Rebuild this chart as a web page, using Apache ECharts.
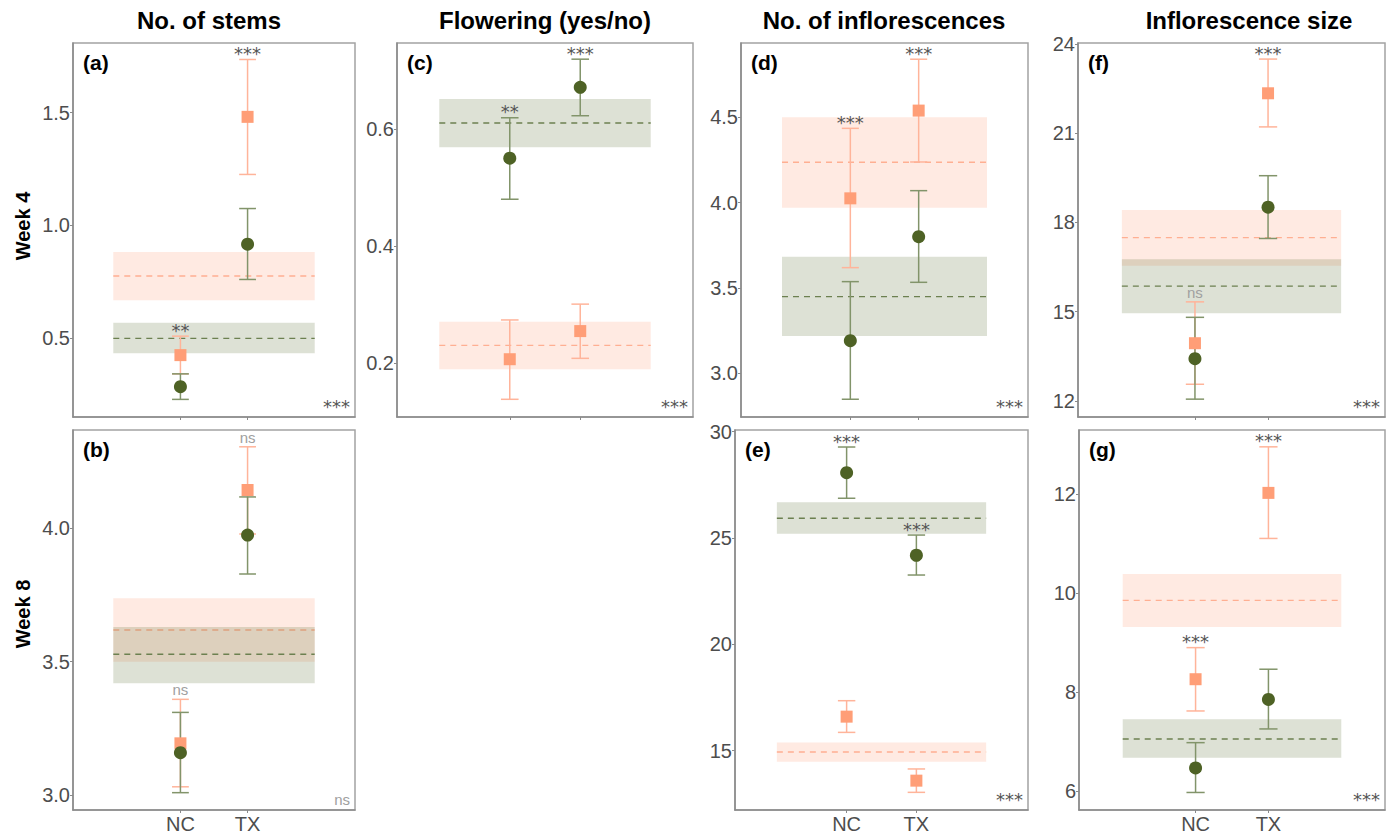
<!DOCTYPE html>
<html><head><meta charset="utf-8">
<script src="https://cdn.jsdelivr.net/npm/echarts@6/dist/echarts.min.js"></script>
<style>html,body{margin:0;padding:0;background:#fff}#chart{width:1392px;height:835px}</style>
</head><body><div id="chart"></div>
<script>
const categories = ['NC', 'TX'];
const columnTitles = ['No. of stems', 'Flowering (yes/no)', 'No. of inflorescences', 'Inflorescence size'];
const rowTitles = ['Week 4', 'Week 8'];
const panelLetters = ['(a)', '(b)', '(c)', '(d)', '(e)', '(f)', '(g)'];

// (a) No. of stems, week 4
const stemsW4Green = [0.286, 0.917];
const stemsW4GreenLow = [0.230, 0.761];
const stemsW4GreenHigh = [0.343, 1.075];
const stemsW4Orange = [0.426, 1.481];
const stemsW4OrangeLow = [0.343, 1.226];
const stemsW4OrangeHigh = [0.510, 1.735];
const stemsW4GreenBand = [0.434, 0.500, 0.569];   // low, mean, high
const stemsW4OrangeBand = [0.669, 0.776, 0.883];
const stemsW4Sig = ['**', '***'];
const stemsW4Overall = '***';
const stemsW4Ticks = ['0.5', '1.0', '1.5'];
const stemsW4Range = [0.152, 1.808];

// (b) No. of stems, week 8
const stemsW8Green = [3.159, 3.975];
const stemsW8GreenLow = [3.009, 3.829];
const stemsW8GreenHigh = [3.310, 4.118];
const stemsW8Orange = [3.194, 4.144];
const stemsW8OrangeLow = [3.031, 3.979];
const stemsW8OrangeHigh = [3.359, 4.306];
const stemsW8GreenBand = [3.419, 3.528, 3.630];
const stemsW8OrangeBand = [3.500, 3.619, 3.738];
const stemsW8Sig = ['ns', 'ns'];
const stemsW8Overall = 'ns';
const stemsW8Ticks = ['3.0', '3.5', '4.0'];
const stemsW8Range = [2.944, 4.369];

// (c) Flowering, week 4
const flowerW4Green = [0.550, 0.671];
const flowerW4GreenLow = [0.480, 0.6225];
const flowerW4GreenHigh = [0.619, 0.719];
const flowerW4Orange = [0.207, 0.255];
const flowerW4OrangeLow = [0.1386, 0.2085];
const flowerW4OrangeHigh = [0.274, 0.301];
const flowerW4GreenBand = [0.5686, 0.610, 0.651];
const flowerW4OrangeBand = [0.190, 0.2307, 0.271];
const flowerW4Sig = ['**', '***'];
const flowerW4Overall = '***';
const flowerW4Ticks = ['0.2', '0.4', '0.6'];
const flowerW4Range = [0.1084, 0.7466];

// (d) No. of inflorescences, week 4
const inflW4Green = [3.191, 3.800];
const inflW4GreenLow = [2.848, 3.533];
const inflW4GreenHigh = [3.537, 4.070];
const inflW4Orange = [4.025, 4.539];
const inflW4OrangeLow = [3.619, 4.238];
const inflW4OrangeHigh = [4.435, 4.840];
const inflW4GreenBand = [3.218, 3.449, 3.683];
const inflW4OrangeBand = [3.970, 4.236, 4.500];
const inflW4Sig = ['***', '***'];
const inflW4Overall = '***';
const inflW4Ticks = ['3.0', '3.5', '4.0', '4.5'];
const inflW4Range = [2.744, 4.935];

// (e) No. of inflorescences, week 8
const inflW8Green = [28.07, 24.19];
const inflW8GreenLow = [26.87, 23.26];
const inflW8GreenHigh = [29.28, 25.14];
const inflW8Orange = [16.60, 13.59];
const inflW8OrangeLow = [15.86, 13.04];
const inflW8OrangeHigh = [17.35, 14.14];
const inflW8GreenBand = [25.20, 25.93, 26.68];
const inflW8OrangeBand = [14.48, 14.94, 15.39];
const inflW8Sig = ['***', '***'];
const inflW8Overall = '***';
const inflW8Ticks = ['15', '20', '25', '30'];
const inflW8Range = [12.21, 30.08];

// (f) Inflorescence size, week 4
const sizeW4Green = [13.42, 18.51];
const sizeW4GreenLow = [12.06, 17.46];
const sizeW4GreenHigh = [14.81, 19.57];
const sizeW4Orange = [13.94, 22.34];
const sizeW4OrangeLow = [12.56, 21.21];
const sizeW4OrangeHigh = [15.33, 23.49];
const sizeW4GreenBand = [14.95, 15.86, 16.76];
const sizeW4OrangeBand = [16.54, 17.49, 18.42];
const sizeW4Sig = ['ns', '***'];
const sizeW4Overall = '***';
const sizeW4Ticks = ['12', '15', '18', '21', '24'];
const sizeW4Range = [11.46, 24.03];

// (g) Inflorescence size, week 8
const sizeW8Green = [6.465, 7.850];
const sizeW8GreenLow = [5.970, 7.253];
const sizeW8GreenHigh = [6.976, 8.459];
const sizeW8Orange = [8.257, 12.02];
const sizeW8OrangeLow = [7.616, 11.10];
const sizeW8OrangeHigh = [8.895, 12.95];
const sizeW8GreenBand = [6.67, 7.05, 7.45];
const sizeW8OrangeBand = [9.31, 9.85, 10.38];
const sizeW8Sig = ['***', '***'];
const sizeW8Overall = '***';
const sizeW8Ticks = ['6', '8', '10', '12'];
const sizeW8Range = [5.616, 13.29];

// ---------- layout & style ----------
const FONT = '"Liberation Sans", Arial, Helvetica, sans-serif';
const STAR_FONT = '"DejaVu Sans", sans-serif';
const C = {
  greenPt: '#4E6225', orangePt: '#FF9E77',
  greenBar: '#82946A', orangeBar: '#FFB49A',
  greenDash: '#6C8050', orangeDash: '#FFAF92',
  greenBand: 'rgba(85,107,47,0.20)', orangeBand: 'rgba(255,160,122,0.22)',
  axis: '#8a8a8a', border: '#a3a3a3', tickText: '#4d4d4d', star: '#555555', ns: '#a0a0a0'
};

const panels = [
  { rect: [73, 43, 282, 374],  showX: false, g: [stemsW4Green, stemsW4GreenLow, stemsW4GreenHigh], o: [stemsW4Orange, stemsW4OrangeLow, stemsW4OrangeHigh], gb: stemsW4GreenBand, ob: stemsW4OrangeBand, sig: stemsW4Sig, overall: stemsW4Overall, ticks: stemsW4Ticks, range: stemsW4Range },
  { rect: [73, 430, 282, 380], showX: true,  g: [stemsW8Green, stemsW8GreenLow, stemsW8GreenHigh], o: [stemsW8Orange, stemsW8OrangeLow, stemsW8OrangeHigh], gb: stemsW8GreenBand, ob: stemsW8OrangeBand, sig: stemsW8Sig, overall: stemsW8Overall, ticks: stemsW8Ticks, range: stemsW8Range },
  { rect: [397, 43, 296, 374], showX: false, g: [flowerW4Green, flowerW4GreenLow, flowerW4GreenHigh], o: [flowerW4Orange, flowerW4OrangeLow, flowerW4OrangeHigh], gb: flowerW4GreenBand, ob: flowerW4OrangeBand, sig: flowerW4Sig, overall: flowerW4Overall, ticks: flowerW4Ticks, range: flowerW4Range },
  { rect: [741, 43, 287, 374], showX: false, g: [inflW4Green, inflW4GreenLow, inflW4GreenHigh], o: [inflW4Orange, inflW4OrangeLow, inflW4OrangeHigh], gb: inflW4GreenBand, ob: inflW4OrangeBand, sig: inflW4Sig, overall: inflW4Overall, ticks: inflW4Ticks, range: inflW4Range },
  { rect: [735, 430, 293, 380], showX: true, g: [inflW8Green, inflW8GreenLow, inflW8GreenHigh], o: [inflW8Orange, inflW8OrangeLow, inflW8OrangeHigh], gb: inflW8GreenBand, ob: inflW8OrangeBand, sig: inflW8Sig, overall: inflW8Overall, ticks: inflW8Ticks, range: inflW8Range },
  { rect: [1078, 43, 307, 374], showX: false, g: [sizeW4Green, sizeW4GreenLow, sizeW4GreenHigh], o: [sizeW4Orange, sizeW4OrangeLow, sizeW4OrangeHigh], gb: sizeW4GreenBand, ob: sizeW4OrangeBand, sig: sizeW4Sig, overall: sizeW4Overall, ticks: sizeW4Ticks, range: sizeW4Range },
  { rect: [1079, 430, 306, 380], showX: true, g: [sizeW8Green, sizeW8GreenLow, sizeW8GreenHigh], o: [sizeW8Orange, sizeW8OrangeLow, sizeW8OrangeHigh], gb: sizeW8GreenBand, ob: sizeW8OrangeBand, sig: sizeW8Sig, overall: sizeW8Overall, ticks: sizeW8Ticks, range: sizeW8Range }
];
const titlePos = [[209, 20], [545, 20], [884, 20], [1249, 20]];
const rowPos = [[23, 226], [23, 614]];

const X_MIN = -0.6, X_MAX = 3.6, BAND_X0 = 0, BAND_X1 = 3, CAP = 0.125;
const catPos = categories.map((c, i) => i + 1);

function bandSeries(i, band, fill, dash) {
  return {
    type: 'custom', xAxisIndex: i, yAxisIndex: i, silent: true, clip: false,
    data: [[band[0], band[1], band[2]]],
    renderItem: function (params, api) {
      const lo = api.value(0), m = api.value(1), hi = api.value(2);
      const a = api.coord([BAND_X0, hi]), b = api.coord([BAND_X1, lo]);
      const m0 = api.coord([BAND_X0, m]), m1 = api.coord([BAND_X1, m]);
      return { type: 'group', children: [
        { type: 'rect', shape: { x: a[0], y: a[1], width: b[0] - a[0], height: b[1] - a[1] }, style: { fill: fill } },
        { type: 'line', shape: { x1: m0[0], y1: m0[1], x2: m1[0], y2: m1[1] }, style: { stroke: dash, lineWidth: 1.4, lineDash: [6, 5] } }
      ] };
    }
  };
}
function errSeries(i, grp, color) {
  return {
    type: 'custom', xAxisIndex: i, yAxisIndex: i, silent: true, clip: false,
    data: catPos.map((x, j) => [x, grp[1][j], grp[2][j]]),
    renderItem: function (params, api) {
      const x = api.value(0), lo = api.value(1), hi = api.value(2);
      const t = api.coord([x, hi]), b = api.coord([x, lo]);
      const tl = api.coord([x - CAP, hi]), tr = api.coord([x + CAP, hi]);
      const bl = api.coord([x - CAP, lo]), br = api.coord([x + CAP, lo]);
      const st = { stroke: color, lineWidth: 1.5 };
      return { type: 'group', children: [
        { type: 'line', shape: { x1: t[0], y1: t[1], x2: b[0], y2: b[1] }, style: st },
        { type: 'line', shape: { x1: tl[0], y1: tl[1], x2: tr[0], y2: tr[1] }, style: st },
        { type: 'line', shape: { x1: bl[0], y1: bl[1], x2: br[0], y2: br[1] }, style: st }
      ] };
    }
  };
}
function pointSeries(i, grp, color, symbol, size) {
  return {
    type: 'scatter', xAxisIndex: i, yAxisIndex: i, silent: true,
    symbol: symbol, symbolSize: size, itemStyle: { color: color, opacity: 1 },
    data: catPos.map((x, j) => [x, grp[0][j]])
  };
}
function sigSeries(i, p) {
  return {
    type: 'custom', xAxisIndex: i, yAxisIndex: i, silent: true, clip: false,
    data: catPos.map((x, j) => [x, Math.max(p.g[2][j], p.o[2][j]), j]),
    renderItem: function (params, api) {
      const x = api.value(0), hi = api.value(1), j = api.value(2);
      const pt = api.coord([x, hi]);
      const txt = p.sig[j];
      const isNs = txt === 'ns';
      return { type: 'text', x: pt[0], y: pt[1] - (isNs ? 2 : -3),
        style: { text: txt, align: 'center', verticalAlign: 'bottom', textAlign: 'center', textVerticalAlign: 'bottom',
          font: isNs ? ('15px ' + FONT) : ('18px ' + STAR_FONT), fill: isNs ? C.ns : C.star } };
    }
  };
}

const grids = [], xAxes = [], yAxes = [], series = [], graphics = [];
panels.forEach((p, i) => {
  const [l, t, w, h] = p.rect;
  grids.push({ left: l, top: t, width: w, height: h, show: true, borderColor: C.border, borderWidth: 1.5, containLabel: false });
  xAxes.push({
    gridIndex: i, type: 'value', min: X_MIN, max: X_MAX,
    axisLine: { show: true, onZero: false, lineStyle: { color: C.axis, width: 1.5 } },
    axisTick: { show: true, length: 3, customValues: catPos, lineStyle: { color: C.axis } },
    axisLabel: { show: p.showX, customValues: catPos, margin: 4, color: C.tickText, fontSize: 20, fontFamily: FONT,
      formatter: v => categories[Math.round(v) - 1] || '' },
    splitLine: { show: false }
  });
  const tv = p.ticks.map(s => parseFloat(s));
  yAxes.push({
    gridIndex: i, type: 'value', min: p.range[0], max: p.range[1],
    axisLine: { show: true, onZero: false, lineStyle: { color: C.axis, width: 1.5 } },
    axisTick: { show: true, length: 3, customValues: tv, lineStyle: { color: C.axis } },
    axisLabel: { customValues: tv, margin: 3, color: C.tickText, fontSize: 20, fontFamily: FONT,
      showMinLabel: true, showMaxLabel: true,
      formatter: v => { let best = 0; tv.forEach((t, k) => { if (Math.abs(t - v) < Math.abs(tv[best] - v)) best = k; }); return p.ticks[best]; } },
    splitLine: { show: false }
  });
  series.push(bandSeries(i, p.ob, C.orangeBand, C.orangeDash));
  series.push(bandSeries(i, p.gb, C.greenBand, C.greenDash));
  series.push(errSeries(i, p.o, C.orangeBar));
  series.push(errSeries(i, p.g, C.greenBar));
  series.push(pointSeries(i, p.o, C.orangePt, 'rect', 12));
  series.push(pointSeries(i, p.g, C.greenPt, 'circle', 13));
  series.push(sigSeries(i, p));
  graphics.push({ type: 'text', x: l + 10, y: t + 19, silent: true,
    style: { text: panelLetters[i], font: 'bold 21px ' + FONT, fill: '#000', textAlign: 'left', textVerticalAlign: 'middle', align: 'left', verticalAlign: 'middle' } });
  const ns = p.overall === 'ns';
  graphics.push({ type: 'text', x: l + w - 5, y: t + h - 11, silent: true,
    style: { text: p.overall, font: ns ? ('15px ' + FONT) : ('18px ' + STAR_FONT), fill: ns ? C.ns : C.star,
      textAlign: 'right', textVerticalAlign: 'middle', align: 'right', verticalAlign: 'middle' } });
});
columnTitles.forEach((s, k) => {
  graphics.push({ type: 'text', x: titlePos[k][0], y: titlePos[k][1], silent: true,
    style: { text: s, font: 'bold 24px ' + FONT, fill: '#000', textAlign: 'center', textVerticalAlign: 'middle', align: 'center', verticalAlign: 'middle' } });
});
rowTitles.forEach((s, k) => {
  graphics.push({ type: 'text', x: rowPos[k][0], y: rowPos[k][1], rotation: Math.PI / 2, silent: true,
    style: { text: s, font: 'bold 20px ' + FONT, fill: '#000', textAlign: 'center', textVerticalAlign: 'middle', align: 'center', verticalAlign: 'middle' } });
});

const chart = echarts.init(document.getElementById('chart'), null, { renderer: 'svg' });
chart.setOption({
  animation: false,
  backgroundColor: '#ffffff',
  grid: grids, xAxis: xAxes, yAxis: yAxes, series: series, graphic: graphics
});
</script></body></html>
